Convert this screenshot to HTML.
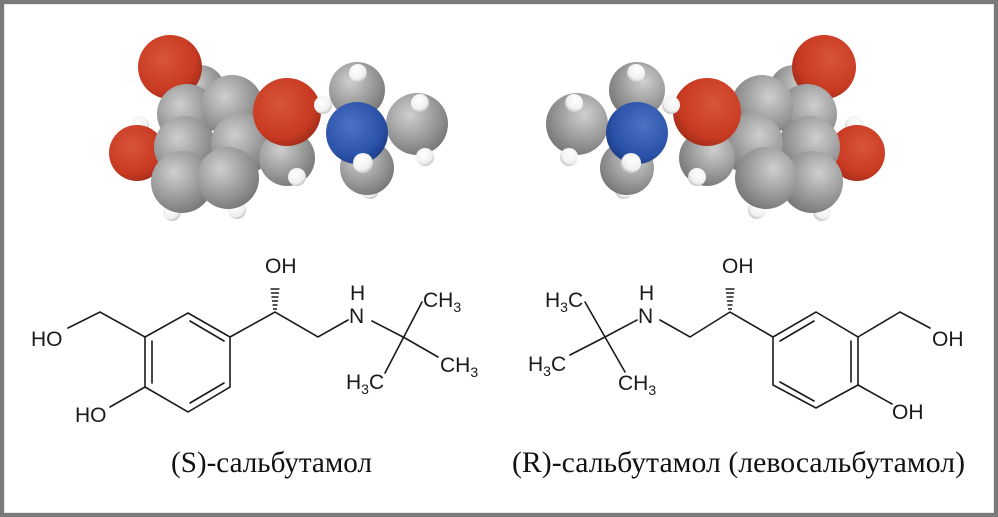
<!DOCTYPE html>
<html><head><meta charset="utf-8"><style>
html,body{margin:0;padding:0;background:#fff}
svg{display:block}
</style></head><body>
<svg width="998" height="517" viewBox="0 0 998 517" xmlns="http://www.w3.org/2000/svg">
<defs>
<radialGradient id="g" cx="0.38" cy="0.35" r="0.7"><stop offset="0" stop-color="#cfcfcf"/><stop offset="0.6" stop-color="#9a9a9a"/><stop offset="1" stop-color="#767676"/></radialGradient>
<radialGradient id="r" cx="0.4" cy="0.38" r="0.7"><stop offset="0" stop-color="#d8553a"/><stop offset="0.7" stop-color="#c83a22"/><stop offset="1" stop-color="#9a2a18"/></radialGradient>
<radialGradient id="b" cx="0.4" cy="0.38" r="0.7"><stop offset="0" stop-color="#4d72c4"/><stop offset="0.7" stop-color="#2a52a8"/><stop offset="1" stop-color="#1c3a80"/></radialGradient>
<radialGradient id="w" cx="0.4" cy="0.35" r="0.7"><stop offset="0" stop-color="#ffffff"/><stop offset="0.7" stop-color="#f0f0f0"/><stop offset="1" stop-color="#bcbcbc"/></radialGradient>
<g id="mol">
<circle cx="214" cy="92" r="10" fill="url(#w)"/>
<circle cx="140" cy="125" r="9" fill="url(#w)"/>
<circle cx="200" cy="90" r="25" fill="url(#g)"/>
<circle cx="170" cy="67" r="32" fill="url(#r)"/>
<circle cx="137" cy="153" r="28" fill="url(#r)"/>
<circle cx="187" cy="114" r="30" fill="url(#g)"/>
<circle cx="232" cy="106" r="31" fill="url(#g)"/>
<circle cx="185" cy="147" r="31" fill="url(#g)"/>
<circle cx="242" cy="144" r="31" fill="url(#g)"/>
<circle cx="237" cy="210" r="9" fill="url(#w)"/>
<circle cx="172" cy="212" r="9" fill="url(#w)"/>
<circle cx="182" cy="182" r="31" fill="url(#g)"/>
<circle cx="228" cy="178" r="31" fill="url(#g)"/>
<circle cx="357" cy="90" r="28" fill="url(#g)"/>
<circle cx="358" cy="73" r="9" fill="url(#w)"/>
<circle cx="370" cy="190" r="9" fill="url(#w)"/>
<circle cx="367" cy="168" r="27" fill="url(#g)"/>
<circle cx="417" cy="124" r="31" fill="url(#g)"/>
<circle cx="420" cy="103" r="9" fill="url(#w)"/>
<circle cx="425" cy="157" r="9" fill="url(#w)"/>
<circle cx="287" cy="158" r="28" fill="url(#g)"/>
<circle cx="297" cy="177" r="9" fill="url(#w)"/>
<circle cx="287" cy="112" r="34" fill="url(#r)"/>
<circle cx="323" cy="105" r="9" fill="url(#w)"/>
<circle cx="357" cy="133" r="31" fill="url(#b)"/>
<circle cx="363" cy="163" r="10" fill="url(#w)"/>
</g>
</defs>
<rect x="0" y="0" width="998" height="517" fill="#7a7a7a"/>
<rect x="4" y="4" width="990" height="509" fill="#e8e8e8"/>
<rect x="5" y="5" width="988" height="507" fill="#fff"/>

<use href="#mol"/>
<use href="#mol" transform="translate(994,0) scale(-1,1)"/>

<g stroke="#1a1a1a" stroke-width="1.6" fill="none" stroke-linecap="round">
<polygon points="188,313 230,337 230,387 188,412 145,387 145,337"/>
<line x1="152" y1="341" x2="152" y2="383"/>
<line x1="190" y1="321" x2="224" y2="341"/>
<line x1="224" y1="383" x2="190" y2="403"/>
<polyline points="145,337 100,312 68,328"/>
<line x1="145" y1="387" x2="110" y2="407"/>
<polyline points="230,337 275,312 318,337 348,320"/>
<polyline points="372,321 405,338 438,357"/>
<line x1="385" y1="373" x2="422" y2="302"/>
<polygon points="816,312 858,337 858,385 816,408 773,385 773,337"/>
<line x1="780" y1="341" x2="814" y2="321"/>
<line x1="780" y1="382" x2="814" y2="401"/>
<line x1="851" y1="341" x2="851" y2="382"/>
<polyline points="858,337 900,312 930,328"/>
<line x1="858" y1="385" x2="892" y2="404"/>
<polyline points="773,337 730,312 690,337 660,320"/>
<polyline points="637,320 605,337 570,355"/>
<line x1="585" y1="302" x2="625" y2="372"/>
</g>
<g stroke="#1a1a1a" stroke-width="1.5">
<line x1="273" y1="309" x2="277" y2="309"/><line x1="272.5" y1="305" x2="277.5" y2="305"/><line x1="272" y1="301" x2="278" y2="301"/><line x1="271.5" y1="297" x2="278.5" y2="297"/><line x1="271" y1="293" x2="279" y2="293"/><line x1="270.5" y1="289" x2="279.5" y2="289"/>
<line x1="728" y1="309" x2="732" y2="309"/><line x1="727.5" y1="305" x2="732.5" y2="305"/><line x1="727" y1="301" x2="733" y2="301"/><line x1="726.5" y1="297" x2="733.5" y2="297"/><line x1="726" y1="293" x2="734" y2="293"/><line x1="725.5" y1="289" x2="734.5" y2="289"/>
</g>
<g font-family="Liberation Sans, sans-serif" font-size="21" fill="#1a1a1a">
<text x="31" y="346">HO</text>
<text x="75" y="422">HO</text>
<text x="265" y="273">OH</text>
<text x="350" y="300">H</text>
<text x="349" y="323">N</text>
<text x="423" y="307">CH<tspan font-size="14" dy="5">3</tspan></text>
<text x="440" y="372">CH<tspan font-size="14" dy="5">3</tspan></text>
<text x="346" y="389">H<tspan font-size="14" dy="5">3</tspan><tspan dy="-5">C</tspan></text>
<text x="722" y="273">OH</text>
<text x="639" y="300">H</text>
<text x="638" y="323">N</text>
<text x="545" y="307">H<tspan font-size="14" dy="5">3</tspan><tspan dy="-5">C</tspan></text>
<text x="528" y="371">H<tspan font-size="14" dy="5">3</tspan><tspan dy="-5">C</tspan></text>
<text x="618" y="390">CH<tspan font-size="14" dy="5">3</tspan></text>
<text x="932" y="346">OH</text>
<text x="892" y="419">OH</text>
</g>
<g font-family="Liberation Serif, serif" font-size="30" fill="#111">
<text x="171" y="472" textLength="201" lengthAdjust="spacingAndGlyphs">(S)-сальбутамол</text>
<text x="512" y="472" textLength="453" lengthAdjust="spacingAndGlyphs">(R)-сальбутамол (левосальбутамол)</text>
</g>
</svg>
</body></html>
